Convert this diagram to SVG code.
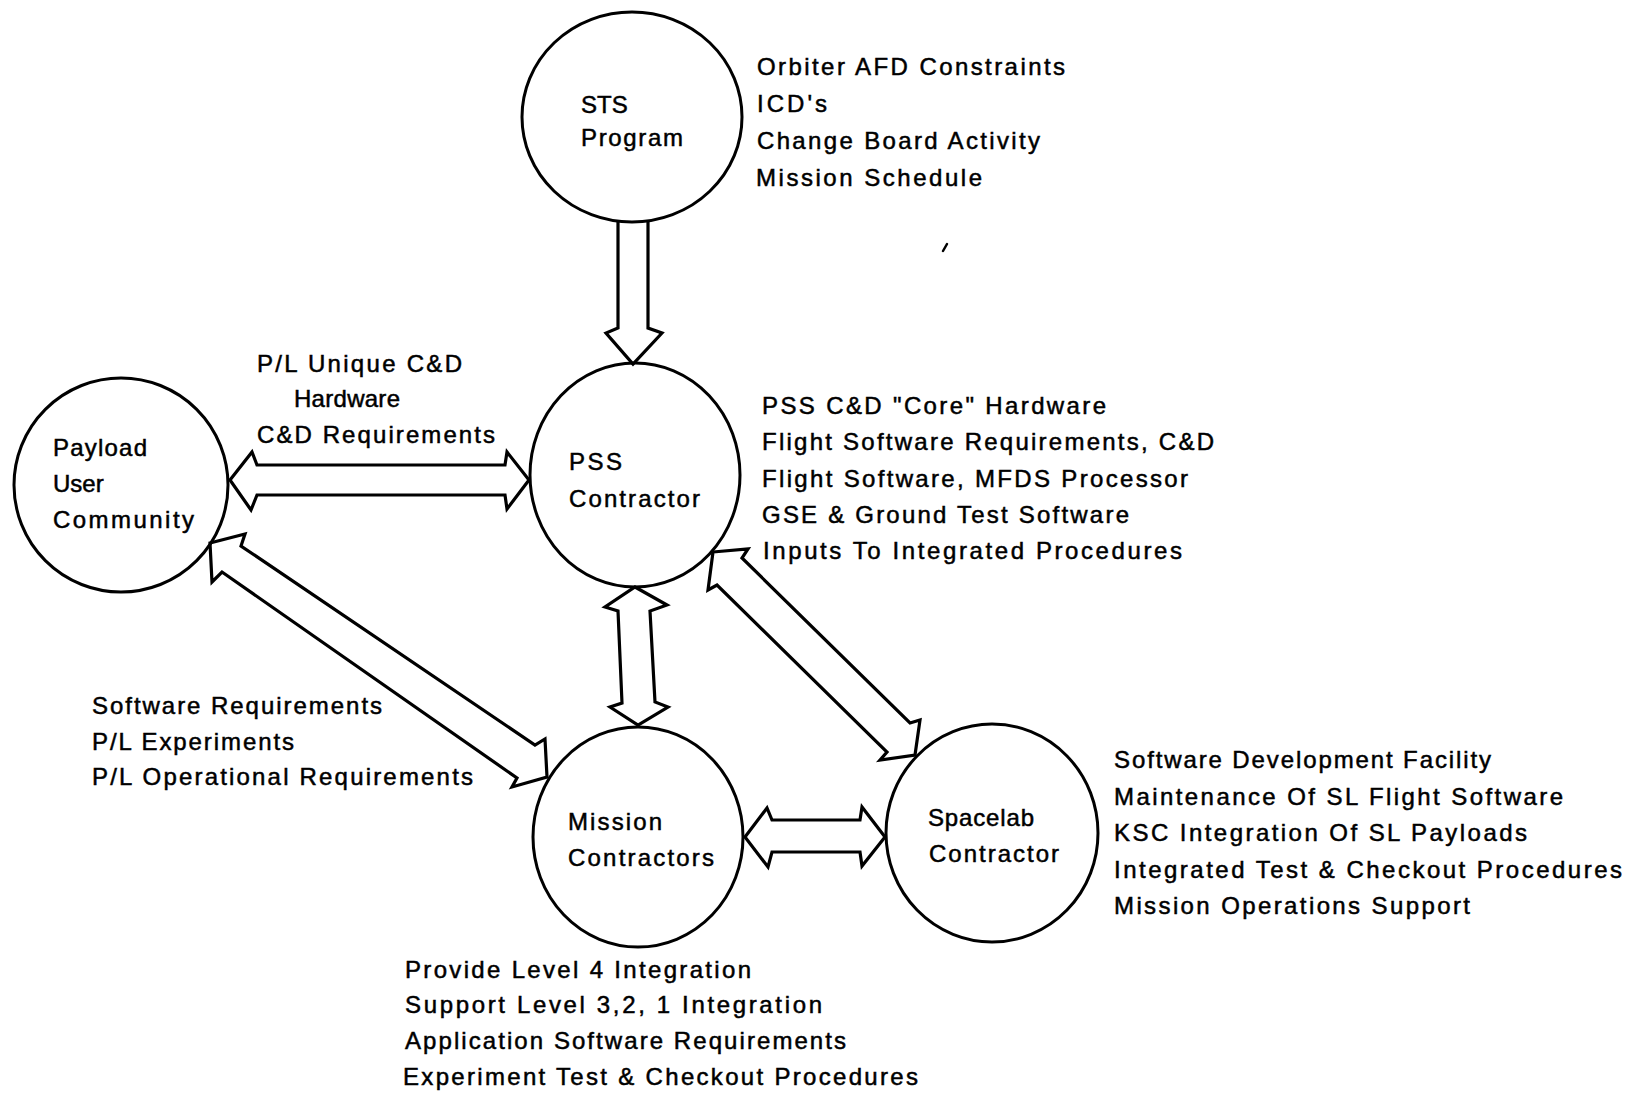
<svg xmlns="http://www.w3.org/2000/svg" width="1628" height="1098" viewBox="0 0 1628 1098">
  <style>
    .node { fill: none; stroke: #000; stroke-width: 3; }
    .arrow { fill: none; stroke: #000; stroke-width: 3.2; stroke-linejoin: miter; stroke-miterlimit: 6; }
    text { font-family: "Liberation Sans", Arial, sans-serif; font-size: 24px; fill: #000; stroke: #000; stroke-width: 0.5; }
  </style>
  <rect width="1628" height="1098" fill="#fff"/>

  <!-- block arrows between the organisations -->
  <g id="connectors">
    <polyline class="arrow" points="618,222 618,328 606,333 633,364 662,333 648,328 648,222"/>
    <polygon class="arrow" points="230,480 252,452 257,465 505,465 507,452 529,480 507,509 505,495 257,495 251,510"/>
    <polygon class="arrow" points="635,587 667,605 650,611 655,702 668,707 638,725 610,707 622,703 618,611 605,607"/>
    <polygon class="arrow" points="745,837 767,808 772,820 860,820 862,807 885,837 862,866 860,852 772,852 768,867"/>
    <polygon class="arrow" points="210,543 245,534 241,546 535,745 545,739 547,777 512,787 517,778 222,572 212,582"/>
    <polygon class="arrow" points="713,552 748,549 742,558 910,723 920,720 915,755 880,760 887,752 717,585 708,590"/>
  </g>

  <g id="sts-program">
    <ellipse class="node" cx="632" cy="117" rx="110" ry="105"/>
    <text x="581" y="113">STS</text>
    <text x="581" y="146" textLength="102">Program</text>
  </g>
  <g id="sts-items">
    <text x="757" y="75" textLength="308">Orbiter AFD Constraints</text>
    <text x="757" y="112" textLength="70">ICD's</text>
    <text x="757" y="149" textLength="283">Change Board Activity</text>
    <text x="756" y="186" textLength="226">Mission Schedule</text>
  </g>

  <g id="pss-contractor">
    <ellipse class="node" cx="635" cy="475" rx="105" ry="112"/>
    <text x="569" y="470" textLength="53">PSS</text>
    <text x="569" y="507" textLength="131">Contractor</text>
  </g>
  <g id="pss-items">
    <text x="762" y="414" textLength="344">PSS C&amp;D "Core" Hardware</text>
    <text x="762" y="450" textLength="452">Flight Software Requirements, C&amp;D</text>
    <text x="762" y="487" textLength="426">Flight Software, MFDS Processor</text>
    <text x="762" y="523" textLength="367">GSE &amp; Ground Test Software</text>
    <text x="763" y="559" textLength="419">Inputs To Integrated Procedures</text>
  </g>

  <g id="payload-user-community">
    <ellipse class="node" cx="121" cy="485" rx="107" ry="107"/>
    <text x="53" y="456" textLength="94">Payload</text>
    <text x="53" y="492">User</text>
    <text x="53" y="528" textLength="141">Community</text>
  </g>
  <g id="payload-pss-label">
    <text x="257" y="372" textLength="205">P/L Unique C&amp;D</text>
    <text x="294" y="407" textLength="106">Hardware</text>
    <text x="257" y="443" textLength="238">C&amp;D Requirements</text>
  </g>
  <g id="payload-mission-label">
    <text x="92" y="714" textLength="290">Software Requirements</text>
    <text x="92" y="750" textLength="202">P/L Experiments</text>
    <text x="92" y="785" textLength="381">P/L Operational Requirements</text>
  </g>

  <g id="mission-contractors">
    <ellipse class="node" cx="638" cy="837" rx="105" ry="110"/>
    <text x="568" y="830" textLength="94">Mission</text>
    <text x="568" y="866" textLength="146">Contractors</text>
  </g>
  <g id="mission-items">
    <text x="405" y="978" textLength="346">Provide Level 4 Integration</text>
    <text x="405" y="1013" textLength="417">Support Level 3,2, 1 Integration</text>
    <text x="405" y="1049" textLength="441">Application Software Requirements</text>
    <text x="403" y="1085" textLength="515">Experiment Test &amp; Checkout Procedures</text>
  </g>

  <g id="spacelab-contractor">
    <ellipse class="node" cx="992" cy="833" rx="106" ry="109"/>
    <text x="928" y="826" textLength="106">Spacelab</text>
    <text x="929" y="862" textLength="130">Contractor</text>
  </g>
  <g id="spacelab-items">
    <text x="1114" y="768" textLength="377">Software Development Facility</text>
    <text x="1114" y="805" textLength="449">Maintenance Of SL Flight Software</text>
    <text x="1114" y="841" textLength="413">KSC Integration Of SL Payloads</text>
    <text x="1114" y="878" textLength="508">Integrated Test &amp; Checkout Procedures</text>
    <text x="1114" y="914" textLength="356">Mission Operations Support</text>
  </g>

  <!-- stray mark on the sheet -->
  <path d="M943,251 L947,244" stroke="#000" stroke-width="2.5" stroke-linecap="round"/>
</svg>
